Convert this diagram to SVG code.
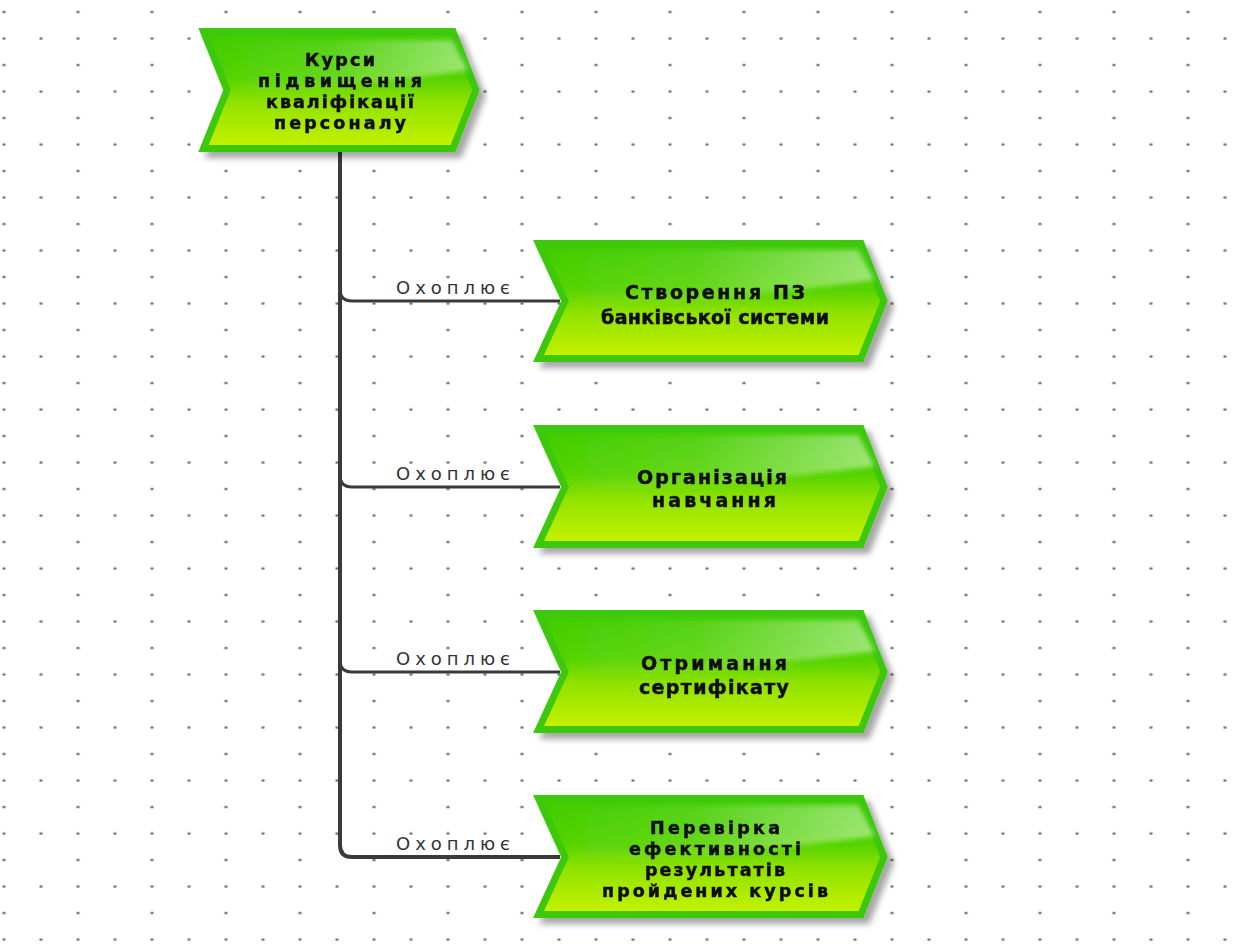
<svg xmlns="http://www.w3.org/2000/svg" width="1248" height="946" viewBox="0 0 1248 946">
<defs>
<pattern id="dots" patternUnits="userSpaceOnUse" x="22.5" y="-1.25" width="74" height="53">
<ellipse cx="55.5" cy="13.25" rx="1.7" ry="1.2" fill="#707070"/>
<ellipse cx="18.5" cy="39.75" rx="1.7" ry="1.2" fill="#707070"/>
<ellipse cx="55.5" cy="39.75" rx="1.7" ry="1.2" fill="#707070"/>
</pattern>
<linearGradient id="fillG" x1="0" y1="0" x2="0" y2="1">
<stop offset="0" stop-color="#3fcc00"/>
<stop offset="0.4" stop-color="#55d300"/>
<stop offset="0.6" stop-color="#8fe200"/>
<stop offset="1" stop-color="#c8f200"/>
</linearGradient>
<linearGradient id="gloss" x1="0" y1="0" x2="1" y2="0">
<stop offset="0" stop-color="#ffffff" stop-opacity="0"/>
<stop offset="0.45" stop-color="#ffffff" stop-opacity="0.1"/>
<stop offset="1" stop-color="#ffffff" stop-opacity="0.45"/>
</linearGradient>
<filter id="soft" x="-5%" y="-20%" width="110%" height="140%">
<feGaussianBlur stdDeviation="2.5"/>
</filter>
<filter id="shadow" x="-10%" y="-10%" width="130%" height="140%">
<feGaussianBlur in="SourceAlpha" stdDeviation="3"/>
<feOffset dx="6" dy="6" result="b"/>
<feComponentTransfer><feFuncA type="linear" slope="0.35"/></feComponentTransfer>
<feMerge><feMergeNode/><feMergeNode in="SourceGraphic"/></feMerge>
</filter>
</defs>
<style>
.shape{fill:url(#fillG);stroke:#3cc80a;stroke-width:7;stroke-linejoin:miter}
.gl{fill:url(#gloss);filter:url(#soft)}
.t{font-family:"DejaVu Sans",Verdana,sans-serif;font-weight:bold;font-size:19px;fill:#111;stroke:#111;stroke-width:0.5;text-anchor:middle}
.t4{font-size:17.5px}
.lbl{font-family:"DejaVu Sans",Verdana,sans-serif;font-size:18px;fill:#333;text-anchor:middle}
.c{fill:none;stroke:#3a3a3a;stroke-linecap:butt}
</style>
<rect width="1248" height="946" fill="#ffffff"/>
<rect width="1248" height="946" fill="url(#dots)"/>

<g id="connectors">
<path class="c" stroke-width="4" d="M340,150 L340,845 Q340,857 352,857 L560,857"/>
<path class="c" stroke-width="3" d="M340,289 Q340,301 352,301 L560,301"/>
<path class="c" stroke-width="3" d="M340,475 Q340,487 352,487 L560,487"/>
<path class="c" stroke-width="3" d="M340,660 Q340,672 352,672 L560,672"/>
<text class="lbl" x="453" y="294" textLength="114" lengthAdjust="spacing">Охоплює</text>
<text class="lbl" x="453" y="480" textLength="114" lengthAdjust="spacing">Охоплює</text>
<text class="lbl" x="453" y="665" textLength="114" lengthAdjust="spacing">Охоплює</text>
<text class="lbl" x="453" y="850" textLength="114" lengthAdjust="spacing">Охоплює</text>
</g>

<g id="node-top" filter="url(#shadow)">
<path class="shape" d="M203.5,31.5 L453,31.5 L476,90 L453,148.5 L203.5,148.5 L227,90 Z"/>
<path class="gl" d="M232,92 C320,92 400,80 468,70 L452,40 L220,40 L228,70 Z"/>
<text class="t t4" x="340" y="66" textLength="70" lengthAdjust="spacing">Курси</text>
<text class="t t4" x="340" y="87" textLength="164" lengthAdjust="spacing">підвищення</text>
<text class="t t4" x="340" y="108" textLength="148" lengthAdjust="spacing">кваліфікації</text>
<text class="t t4" x="340" y="129" textLength="132" lengthAdjust="spacing">персоналу</text>
</g>

<g id="node-1" filter="url(#shadow)">
<path class="shape" d="M538.5,243.5 L861,243.5 L884,301 L861,358.5 L538.5,358.5 L565,301 Z"/>
<path class="gl" d="M570,304 C680,304 780,292 875,280 L858,250 L550,250 L560,280 Z"/>
<text class="t" x="715" y="299" textLength="180" lengthAdjust="spacing">Створення ПЗ</text>
<text class="t" x="715" y="324" textLength="228" lengthAdjust="spacing">банківської системи</text>
</g>

<g id="node-2" filter="url(#shadow)">
<path class="shape" d="M538.5,428.5 L861,428.5 L884,487 L861,544.5 L538.5,544.5 L565,487 Z"/>
<path class="gl" d="M570,490 C680,490 780,478 875,466 L858,435 L550,435 L560,466 Z"/>
<text class="t" x="712" y="484" textLength="150" lengthAdjust="spacing">Організація</text>
<text class="t" x="714" y="507" textLength="124" lengthAdjust="spacing">навчання</text>
</g>

<g id="node-3" filter="url(#shadow)">
<path class="shape" d="M538.5,613.5 L861,613.5 L884,672 L861,729.5 L538.5,729.5 L565,672 Z"/>
<path class="gl" d="M570,675 C680,675 780,663 875,651 L858,620 L550,620 L560,651 Z"/>
<text class="t" x="714" y="670" textLength="146" lengthAdjust="spacing">Отримання</text>
<text class="t" x="714" y="694" textLength="150" lengthAdjust="spacing">сертифікату</text>
</g>

<g id="node-4" filter="url(#shadow)">
<path class="shape" d="M538.5,798.5 L861,798.5 L884,857 L861,914.5 L538.5,914.5 L565,857 Z"/>
<path class="gl" d="M570,860 C680,860 780,848 875,836 L858,805 L550,805 L560,836 Z"/>
<text class="t t4" x="715" y="834" textLength="130" lengthAdjust="spacing">Перевірка</text>
<text class="t t4" x="715" y="855" textLength="172" lengthAdjust="spacing">ефективності</text>
<text class="t t4" x="715" y="876" textLength="140" lengthAdjust="spacing">результатів</text>
<text class="t t4" x="715" y="897" textLength="226" lengthAdjust="spacing">пройдених курсів</text>
</g>
</svg>
